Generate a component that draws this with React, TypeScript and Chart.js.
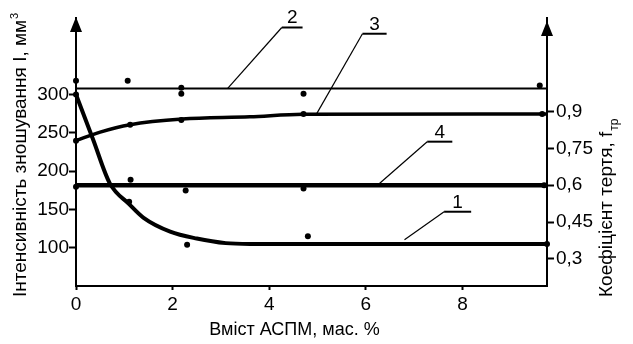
import React, { useEffect, useRef } from 'react';
import { Chart, registerables } from 'chart.js';

Chart.register(...registerables);

const FONT = '"Liberation Sans", Arial, Helvetica, sans-serif';

// ---- tick values / labels ----
const xTicks = [0, 2, 4, 6, 8];
const leftTicks = [100, 150, 200, 250, 300];
const rightTicks = [0.3, 0.45, 0.6, 0.75, 0.9];
const rightTickLabels = ['0,3', '0,45', '0,6', '0,75', '0,9'];

// ---- curve 1: wear intensity (left axis) ----
const curve1X = [0, 0.35, 0.7, 1.1, 1.4, 1.95, 2.5, 3.1, 3.6, 9.75];
const curve1Y = [300, 242, 184, 157, 139, 121, 112, 106, 105, 105];
const points1X = [0, 1.1, 2.3, 4.8, 9.75];
const points1Y = [300, 160, 104, 115, 105];

// ---- line 2 (left axis) ----
const line2X = [0, 9.75];
const line2Y = [308, 308];
const points2X = [0, 1.07, 2.18, 2.18, 4.71, 9.6];
const points2Y = [318, 318, 309, 301, 301, 312];

// ---- curve 3: friction coefficient (right axis) ----
const curve3X = [0, 0.5, 1.12, 2.2, 3.6, 4.7, 9.75];
const curve3Y = [0.781, 0.816, 0.846, 0.869, 0.878, 0.889, 0.89];
const points3X = [0, 1.12, 2.18, 4.71, 9.65];
const points3Y = [0.781, 0.846, 0.865, 0.89, 0.89];

// ---- line 4 (right axis) ----
const line4X = [0, 9.75];
const line4Y = [0.6, 0.6];
const points4X = [0, 1.13, 2.27, 4.71, 9.69];
const points4Y = [0.594, 0.622, 0.578, 0.587, 0.6];

// ---- curve number callouts (data units) ----
const callouts = [
  { text: '2', axis: 'y', ax: 3.14, ay: 308, ex: 4.26, ey: 387.6, endX: 4.69 },
  { text: '3', axis: 'y1', ax: 4.98, ay: 0.89, ex: 5.93, ey: 1.216, endX: 6.43 },
  { text: '4', axis: 'y1', ax: 6.24, ay: 0.6, ex: 7.27, ey: 0.777, endX: 7.79 },
  { text: '1', axis: 'y', ax: 6.8, ay: 110.5, ex: 7.62, ey: 147, endX: 8.18 },
];

const leftTitle = 'Інтенсивність зношування I, мм';
const leftTitleSup = '3';
const rightTitle = 'Коефіцієнт тертя, f';
const rightTitleSub = 'тр';
const xTitle = 'Вміст АСПМ, мас. %';

const pts = (xs: number[], ys: number[]) => xs.map((x, i) => ({ x, y: ys[i] }));

const lineDs = (xs: number[], ys: number[], axis: string, width: number) => ({
  data: pts(xs, ys),
  yAxisID: axis,
  borderColor: '#000',
  backgroundColor: '#000',
  borderWidth: width,
  pointRadius: 0,
  cubicInterpolationMode: 'monotone' as const,
  showLine: true,
  clip: false as const,
});

const dotDs = (xs: number[], ys: number[], axis: string) => ({
  data: pts(xs, ys),
  yAxisID: axis,
  borderColor: '#000',
  backgroundColor: '#000',
  borderWidth: 0,
  pointRadius: 3,
  showLine: false,
  clip: false as const,
});

const decor = {
  id: 'decor',
  afterDraw(chart: any) {
    const { ctx, chartArea: a, scales } = chart;
    ctx.save();
    ctx.fillStyle = '#000';
    ctx.strokeStyle = '#000';

    // arrows on vertical axes
    const arrow = (x: number, tip: number) => {
      ctx.beginPath();
      ctx.moveTo(x, tip);
      ctx.lineTo(x - 6, tip + 15);
      ctx.lineTo(x + 6, tip + 15);
      ctx.closePath();
      ctx.fill();
    };
    arrow(a.left, a.top - 1);
    arrow(a.right, a.top + 3);

    // callouts
    for (const c of callouts) {
      const ys = scales[c.axis];
      const px = scales.x.getPixelForValue(c.ax);
      const py = ys.getPixelForValue(c.ay);
      const qx = scales.x.getPixelForValue(c.ex);
      const qy = ys.getPixelForValue(c.ey);
      const rx = scales.x.getPixelForValue(c.endX);
      ctx.lineWidth = 1.2;
      ctx.beginPath();
      ctx.moveTo(px, py);
      ctx.lineTo(qx, qy);
      ctx.stroke();
      ctx.lineWidth = 2;
      ctx.beginPath();
      ctx.moveTo(qx, qy);
      ctx.lineTo(rx, qy);
      ctx.stroke();
      ctx.font = `19px ${FONT}`;
      ctx.textAlign = 'center';
      ctx.textBaseline = 'alphabetic';
      ctx.fillText(c.text, (qx + rx) / 2, qy - 4);
    }

    // left title
    ctx.save();
    ctx.translate(a.left - 50.5, a.bottom + 11);
    ctx.rotate(-Math.PI / 2);
    ctx.textAlign = 'left';
    ctx.textBaseline = 'alphabetic';
    ctx.font = `19px ${FONT}`;
    ctx.fillText(leftTitle, 0, 0);
    const lw = ctx.measureText(leftTitle).width;
    ctx.font = `11px ${FONT}`;
    ctx.fillText(leftTitleSup, lw + 1, -8);
    ctx.restore();

    // right title
    ctx.save();
    ctx.translate(a.right + 65, a.bottom + 11);
    ctx.rotate(-Math.PI / 2);
    ctx.textAlign = 'left';
    ctx.textBaseline = 'alphabetic';
    ctx.font = `19px ${FONT}`;
    ctx.fillText(rightTitle, 0, 0);
    const rw = ctx.measureText(rightTitle).width;
    ctx.font = `12px ${FONT}`;
    ctx.fillText(rightTitleSub, rw + 1, 6);
    ctx.restore();

    // x title
    ctx.font = `18px ${FONT}`;
    ctx.textAlign = 'center';
    ctx.textBaseline = 'alphabetic';
    ctx.fillText(xTitle, a.left + 218.5, a.bottom + 49);

    ctx.restore();
  },
};

export default function App() {
  const ref = useRef<HTMLCanvasElement>(null);
  useEffect(() => {
    document.body.style.margin = '0';
    const tickFont = { family: FONT, size: 19 };
    const chart = new Chart(ref.current as HTMLCanvasElement, {
      type: 'line',
      data: {
        datasets: [
          lineDs(curve1X, curve1Y, 'y', 4),
          dotDs(points1X, points1Y, 'y'),
          lineDs(line2X, line2Y, 'y', 2),
          dotDs(points2X, points2Y, 'y'),
          lineDs(curve3X, curve3Y, 'y1', 3.5),
          dotDs(points3X, points3Y, 'y1'),
          lineDs(line4X, line4Y, 'y1', 4.5),
          dotDs(points4X, points4Y, 'y1'),
        ] as any,
      },
      options: {
        responsive: false,
        animation: false,
        devicePixelRatio: 1,
        layout: { padding: { top: 18, left: 0, right: 0, bottom: 0 } },
        plugins: { legend: { display: false }, tooltip: { enabled: false } },
        scales: {
          x: {
            type: 'linear',
            min: 0,
            max: 9.75,
            afterBuildTicks: (s: any) => {
              s.ticks = xTicks.map((v) => ({ value: v }));
            },
            afterFit: (s: any) => {
              s.height = 58;
            },
            ticks: { font: tickFont, color: '#000', padding: 3, maxRotation: 0, autoSkip: false },
            grid: { drawOnChartArea: false, drawTicks: true, tickLength: 4, tickWidth: 2, color: '#000' },
            border: { display: true, color: '#000', width: 2 },
          },
          y: {
            type: 'linear',
            position: 'left',
            min: 50,
            max: 400,
            afterBuildTicks: (s: any) => {
              s.ticks = leftTicks.map((v) => ({ value: v }));
            },
            afterFit: (s: any) => {
              s.width = 76;
            },
            ticks: { font: tickFont, color: '#000', padding: 0, callback: (v: any) => String(v) },
            grid: { drawOnChartArea: false, drawTicks: true, tickLength: 7, tickWidth: 2, color: '#000' },
            border: { display: true, color: '#000', width: 2 },
          },
          y1: {
            type: 'linear',
            position: 'right',
            min: 0.19,
            max: 1.28,
            afterBuildTicks: (s: any) => {
              s.ticks = rightTicks.map((v) => ({ value: v }));
            },
            afterFit: (s: any) => {
              s.width = 86;
            },
            ticks: {
              font: tickFont,
              color: '#000',
              padding: 2,
              callback: (_v: any, i: number) => rightTickLabels[i],
            },
            grid: { drawOnChartArea: false, drawTicks: true, tickLength: 7, tickWidth: 2, color: '#000' },
            border: { display: true, color: '#000', width: 2 },
          },
        },
      } as any,
      plugins: [decor],
    });
    return () => chart.destroy();
  }, []);
  return <canvas ref={ref} width={633} height={344} style={{ display: 'block' }} />;
}
